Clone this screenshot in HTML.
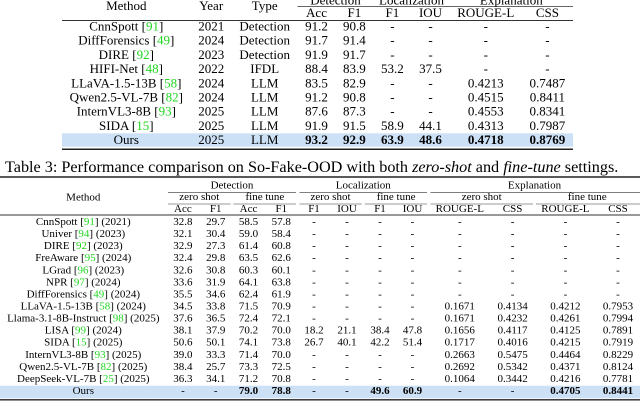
<!DOCTYPE html>
<html><head><meta charset="utf-8"><style>
html,body{margin:0;padding:0;background:#fff;}
svg{display:block;}
text{font-family:"Liberation Serif","Times New Roman",serif;fill:#000;}
.t1{font-size:13px;}
.t2{font-size:11px;}
.g{fill:#1fd81f;}
.b{font-weight:bold;}
</style></head><body>
<svg width="640" height="402" viewBox="0 0 640 402" xmlns="http://www.w3.org/2000/svg">
<!-- ===== Table 1 ===== -->
<rect x="62" y="133.3" width="511" height="13.4" fill="#cde1f6"/>
<line x1="297.5" y1="6.5" x2="573" y2="6.5" stroke="#333" stroke-width="0.7"/>
<line x1="62" y1="20.5" x2="573" y2="20.5" stroke="#333" stroke-width="1"/>
<line x1="62" y1="149.2" x2="573" y2="149.2" stroke="#222" stroke-width="1.5"/>
<g class="t1" text-anchor="middle">
<text x="335.5" y="4.5">Detection</text>
<text x="411.5" y="4.5">Localization</text>
<text x="511.3" y="4.5">Explanation</text>
<text x="126.3" y="10">Method</text>
<text x="211.2" y="10">Year</text>
<text x="264.7" y="10">Type</text>
<text x="316.5" y="16.8">Acc</text>
<text x="354.4" y="16.8">F1</text>
<text x="392.4" y="16.8">F1</text>
<text x="430.5" y="16.8">IOU</text>
<text x="485.75" y="16.8">ROUGE-L</text>
<text x="547.4" y="16.8">CSS</text>

<text x="126.3" y="30.5">CnnSpott [<tspan class="g">91</tspan>]</text>
<text x="211.2" y="30.5">2021</text><text x="264.7" y="30.5">Detection</text>
<text x="316.5" y="30.5">91.2</text><text x="354.4" y="30.5">90.8</text>
<text x="392.4" y="30.5">-</text><text x="430.5" y="30.5">-</text><text x="485.75" y="30.5">-</text><text x="547.4" y="30.5">-</text>

<text x="126.3" y="44.7">DiffForensics [<tspan class="g">49</tspan>]</text>
<text x="211.2" y="44.7">2024</text><text x="264.7" y="44.7">Detection</text>
<text x="316.5" y="44.7">91.7</text><text x="354.4" y="44.7">91.4</text>
<text x="392.4" y="44.7">-</text><text x="430.5" y="44.7">-</text><text x="485.75" y="44.7">-</text><text x="547.4" y="44.7">-</text>

<text x="126.3" y="58.9">DIRE [<tspan class="g">92</tspan>]</text>
<text x="211.2" y="58.9">2023</text><text x="264.7" y="58.9">Detection</text>
<text x="316.5" y="58.9">91.9</text><text x="354.4" y="58.9">91.7</text>
<text x="392.4" y="58.9">-</text><text x="430.5" y="58.9">-</text><text x="485.75" y="58.9">-</text><text x="547.4" y="58.9">-</text>

<text x="126.3" y="73.1">HIFI-Net [<tspan class="g">48</tspan>]</text>
<text x="211.2" y="73.1">2022</text><text x="264.7" y="73.1">IFDL</text>
<text x="316.5" y="73.1">88.4</text><text x="354.4" y="73.1">83.9</text>
<text x="392.4" y="73.1">53.2</text><text x="430.5" y="73.1">37.5</text><text x="485.75" y="73.1">-</text><text x="547.4" y="73.1">-</text>

<text x="126.3" y="87.3">LLaVA-1.5-13B [<tspan class="g">58</tspan>]</text>
<text x="211.2" y="87.3">2024</text><text x="264.7" y="87.3">LLM</text>
<text x="316.5" y="87.3">83.5</text><text x="354.4" y="87.3">82.9</text>
<text x="392.4" y="87.3">-</text><text x="430.5" y="87.3">-</text><text x="485.75" y="87.3">0.4213</text><text x="547.4" y="87.3">0.7487</text>

<text x="126.3" y="101.5">Qwen2.5-VL-7B [<tspan class="g">82</tspan>]</text>
<text x="211.2" y="101.5">2024</text><text x="264.7" y="101.5">LLM</text>
<text x="316.5" y="101.5">91.2</text><text x="354.4" y="101.5">90.8</text>
<text x="392.4" y="101.5">-</text><text x="430.5" y="101.5">-</text><text x="485.75" y="101.5">0.4515</text><text x="547.4" y="101.5">0.8411</text>

<text x="126.3" y="115.7">InternVL3-8B [<tspan class="g">93</tspan>]</text>
<text x="211.2" y="115.7">2025</text><text x="264.7" y="115.7">LLM</text>
<text x="316.5" y="115.7">87.6</text><text x="354.4" y="115.7">87.3</text>
<text x="392.4" y="115.7">-</text><text x="430.5" y="115.7">-</text><text x="485.75" y="115.7">0.4553</text><text x="547.4" y="115.7">0.8341</text>

<text x="126.3" y="129.9">SIDA [<tspan class="g">15</tspan>]</text>
<text x="211.2" y="129.9">2025</text><text x="264.7" y="129.9">LLM</text>
<text x="316.5" y="129.9">91.9</text><text x="354.4" y="129.9">91.5</text>
<text x="392.4" y="129.9">58.9</text><text x="430.5" y="129.9">44.1</text><text x="485.75" y="129.9">0.4313</text><text x="547.4" y="129.9">0.7987</text>

<text x="126.3" y="144.1">Ours</text>
<text x="211.2" y="144.1">2025</text><text x="264.7" y="144.1">LLM</text>
<text class="b" x="316.5" y="144.1">93.2</text><text class="b" x="354.4" y="144.1">92.9</text>
<text class="b" x="392.4" y="144.1">63.9</text><text class="b" x="430.5" y="144.1">48.6</text><text class="b" x="485.75" y="144.1">0.4718</text><text class="b" x="547.4" y="144.1">0.8769</text>
</g>

<!-- ===== Caption ===== -->
<text x="5" y="172" style="font-size:16.2px">Table 3: Performance comparison on So-Fake-OOD with both <tspan font-style="italic">zero-shot</tspan> and <tspan font-style="italic">fine-tune</tspan> settings.</text>

<!-- ===== Table 2 ===== -->
<rect x="0" y="385.7" width="640" height="12.6" fill="#cde1f6"/>
<line x1="0" y1="177" x2="640" y2="177" stroke="#222" stroke-width="1.4"/>
<line x1="168" y1="192.3" x2="296" y2="192.3" stroke="#333" stroke-width="0.6"/>
<line x1="299.5" y1="192.3" x2="427" y2="192.3" stroke="#333" stroke-width="0.6"/>
<line x1="430.5" y1="192.3" x2="640" y2="192.3" stroke="#333" stroke-width="0.6"/>
<line x1="168" y1="204" x2="230.5" y2="204" stroke="#333" stroke-width="0.6"/>
<line x1="233.5" y1="204" x2="296" y2="204" stroke="#333" stroke-width="0.6"/>
<line x1="299.5" y1="204" x2="361.7" y2="204" stroke="#333" stroke-width="0.6"/>
<line x1="364.8" y1="204" x2="427" y2="204" stroke="#333" stroke-width="0.6"/>
<line x1="430.5" y1="204" x2="533" y2="204" stroke="#333" stroke-width="0.6"/>
<line x1="536" y1="204" x2="640" y2="204" stroke="#333" stroke-width="0.6"/>
<line x1="0" y1="215" x2="640" y2="215" stroke="#333" stroke-width="0.9"/>
<line x1="0" y1="399.8" x2="640" y2="399.8" stroke="#222" stroke-width="1.4"/>

<g class="t2" text-anchor="middle">
<text x="232" y="188.5">Detection</text>
<text x="363.3" y="188.5">Localization</text>
<text x="534.5" y="188.5">Explanation</text>
<text x="83.3" y="200.5">Method</text>
<text x="199.3" y="200">zero shot</text>
<text x="264.9" y="200">fine tune</text>
<text x="330.5" y="200">zero shot</text>
<text x="396.1" y="200">fine tune</text>
<text x="481.7" y="200">zero shot</text>
<text x="587.3" y="200">fine tune</text>
<text x="182.9" y="212">Acc</text><text x="215.7" y="212">F1</text>
<text x="248.5" y="212">Acc</text><text x="281.3" y="212">F1</text>
<text x="314" y="212">F1</text><text x="347" y="212">IOU</text>
<text x="380" y="212">F1</text><text x="412.5" y="212">IOU</text>
<text x="459.8" y="212">ROUGE-L</text><text x="512.6" y="212">CSS</text>
<text x="565.4" y="212">ROUGE-L</text><text x="618" y="212">CSS</text>

<text x="83.3" y="225">CnnSpott [<tspan class="g">91</tspan>] (2021)</text>
<text x="182.9" y="225">32.8</text><text x="215.7" y="225">29.7</text><text x="248.5" y="225">58.5</text><text x="281.3" y="225">57.8</text>
<text x="314" y="225">-</text><text x="347" y="225">-</text><text x="380" y="225">-</text><text x="412.5" y="225">-</text>
<text x="459.8" y="225">-</text><text x="512.6" y="225">-</text><text x="565.4" y="225">-</text><text x="618" y="225">-</text>

<text x="83.3" y="237.07">Univer [<tspan class="g">94</tspan>] (2023)</text>
<text x="182.9" y="237.07">32.1</text><text x="215.7" y="237.07">30.4</text><text x="248.5" y="237.07">59.0</text><text x="281.3" y="237.07">58.4</text>
<text x="314" y="237.07">-</text><text x="347" y="237.07">-</text><text x="380" y="237.07">-</text><text x="412.5" y="237.07">-</text>
<text x="459.8" y="237.07">-</text><text x="512.6" y="237.07">-</text><text x="565.4" y="237.07">-</text><text x="618" y="237.07">-</text>

<text x="83.3" y="249.14">DIRE [<tspan class="g">92</tspan>] (2023)</text>
<text x="182.9" y="249.14">32.9</text><text x="215.7" y="249.14">27.3</text><text x="248.5" y="249.14">61.4</text><text x="281.3" y="249.14">60.8</text>
<text x="314" y="249.14">-</text><text x="347" y="249.14">-</text><text x="380" y="249.14">-</text><text x="412.5" y="249.14">-</text>
<text x="459.8" y="249.14">-</text><text x="512.6" y="249.14">-</text><text x="565.4" y="249.14">-</text><text x="618" y="249.14">-</text>

<text x="83.3" y="261.21">FreAware [<tspan class="g">95</tspan>] (2024)</text>
<text x="182.9" y="261.21">32.4</text><text x="215.7" y="261.21">29.8</text><text x="248.5" y="261.21">63.5</text><text x="281.3" y="261.21">62.6</text>
<text x="314" y="261.21">-</text><text x="347" y="261.21">-</text><text x="380" y="261.21">-</text><text x="412.5" y="261.21">-</text>
<text x="459.8" y="261.21">-</text><text x="512.6" y="261.21">-</text><text x="565.4" y="261.21">-</text><text x="618" y="261.21">-</text>

<text x="83.3" y="273.28">LGrad [<tspan class="g">96</tspan>] (2023)</text>
<text x="182.9" y="273.28">32.6</text><text x="215.7" y="273.28">30.8</text><text x="248.5" y="273.28">60.3</text><text x="281.3" y="273.28">60.1</text>
<text x="314" y="273.28">-</text><text x="347" y="273.28">-</text><text x="380" y="273.28">-</text><text x="412.5" y="273.28">-</text>
<text x="459.8" y="273.28">-</text><text x="512.6" y="273.28">-</text><text x="565.4" y="273.28">-</text><text x="618" y="273.28">-</text>

<text x="83.3" y="285.35">NPR [<tspan class="g">97</tspan>] (2024)</text>
<text x="182.9" y="285.35">33.6</text><text x="215.7" y="285.35">31.9</text><text x="248.5" y="285.35">64.1</text><text x="281.3" y="285.35">63.8</text>
<text x="314" y="285.35">-</text><text x="347" y="285.35">-</text><text x="380" y="285.35">-</text><text x="412.5" y="285.35">-</text>
<text x="459.8" y="285.35">-</text><text x="512.6" y="285.35">-</text><text x="565.4" y="285.35">-</text><text x="618" y="285.35">-</text>

<text x="83.3" y="297.42">DiffForensics [<tspan class="g">49</tspan>] (2024)</text>
<text x="182.9" y="297.42">35.5</text><text x="215.7" y="297.42">34.6</text><text x="248.5" y="297.42">62.4</text><text x="281.3" y="297.42">61.9</text>
<text x="314" y="297.42">-</text><text x="347" y="297.42">-</text><text x="380" y="297.42">-</text><text x="412.5" y="297.42">-</text>
<text x="459.8" y="297.42">-</text><text x="512.6" y="297.42">-</text><text x="565.4" y="297.42">-</text><text x="618" y="297.42">-</text>

<text x="83.3" y="309.49">LLaVA-1.5-13B [<tspan class="g">58</tspan>] (2024)</text>
<text x="182.9" y="309.49">34.5</text><text x="215.7" y="309.49">33.8</text><text x="248.5" y="309.49">71.5</text><text x="281.3" y="309.49">70.9</text>
<text x="314" y="309.49">-</text><text x="347" y="309.49">-</text><text x="380" y="309.49">-</text><text x="412.5" y="309.49">-</text>
<text x="459.8" y="309.49">0.1671</text><text x="512.6" y="309.49">0.4134</text><text x="565.4" y="309.49">0.4212</text><text x="618" y="309.49">0.7953</text>

<text x="83.3" y="321.56">Llama-3.1-8B-Instruct [<tspan class="g">98</tspan>] (2025)</text>
<text x="182.9" y="321.56">37.6</text><text x="215.7" y="321.56">36.5</text><text x="248.5" y="321.56">72.4</text><text x="281.3" y="321.56">72.1</text>
<text x="314" y="321.56">-</text><text x="347" y="321.56">-</text><text x="380" y="321.56">-</text><text x="412.5" y="321.56">-</text>
<text x="459.8" y="321.56">0.1671</text><text x="512.6" y="321.56">0.4232</text><text x="565.4" y="321.56">0.4261</text><text x="618" y="321.56">0.7994</text>

<text x="83.3" y="333.63">LISA [<tspan class="g">99</tspan>] (2024)</text>
<text x="182.9" y="333.63">38.1</text><text x="215.7" y="333.63">37.9</text><text x="248.5" y="333.63">70.2</text><text x="281.3" y="333.63">70.0</text>
<text x="314" y="333.63">18.2</text><text x="347" y="333.63">21.1</text><text x="380" y="333.63">38.4</text><text x="412.5" y="333.63">47.8</text>
<text x="459.8" y="333.63">0.1656</text><text x="512.6" y="333.63">0.4117</text><text x="565.4" y="333.63">0.4125</text><text x="618" y="333.63">0.7891</text>

<text x="83.3" y="345.7">SIDA [<tspan class="g">15</tspan>] (2025)</text>
<text x="182.9" y="345.7">50.6</text><text x="215.7" y="345.7">50.1</text><text x="248.5" y="345.7">74.1</text><text x="281.3" y="345.7">73.8</text>
<text x="314" y="345.7">26.7</text><text x="347" y="345.7">40.1</text><text x="380" y="345.7">42.2</text><text x="412.5" y="345.7">51.4</text>
<text x="459.8" y="345.7">0.1717</text><text x="512.6" y="345.7">0.4016</text><text x="565.4" y="345.7">0.4215</text><text x="618" y="345.7">0.7919</text>

<text x="83.3" y="357.77">InternVL3-8B [<tspan class="g">93</tspan>] (2025)</text>
<text x="182.9" y="357.77">39.0</text><text x="215.7" y="357.77">33.3</text><text x="248.5" y="357.77">71.4</text><text x="281.3" y="357.77">70.0</text>
<text x="314" y="357.77">-</text><text x="347" y="357.77">-</text><text x="380" y="357.77">-</text><text x="412.5" y="357.77">-</text>
<text x="459.8" y="357.77">0.2663</text><text x="512.6" y="357.77">0.5475</text><text x="565.4" y="357.77">0.4464</text><text x="618" y="357.77">0.8229</text>

<text x="83.3" y="369.84">Qwen2.5-VL-7B [<tspan class="g">82</tspan>] (2025)</text>
<text x="182.9" y="369.84">38.4</text><text x="215.7" y="369.84">25.7</text><text x="248.5" y="369.84">73.3</text><text x="281.3" y="369.84">72.5</text>
<text x="314" y="369.84">-</text><text x="347" y="369.84">-</text><text x="380" y="369.84">-</text><text x="412.5" y="369.84">-</text>
<text x="459.8" y="369.84">0.2692</text><text x="512.6" y="369.84">0.5342</text><text x="565.4" y="369.84">0.4371</text><text x="618" y="369.84">0.8124</text>

<text x="83.3" y="381.91">DeepSeek-VL-7B [<tspan class="g">25</tspan>] (2025)</text>
<text x="182.9" y="381.91">36.3</text><text x="215.7" y="381.91">34.1</text><text x="248.5" y="381.91">71.2</text><text x="281.3" y="381.91">70.8</text>
<text x="314" y="381.91">-</text><text x="347" y="381.91">-</text><text x="380" y="381.91">-</text><text x="412.5" y="381.91">-</text>
<text x="459.8" y="381.91">0.1064</text><text x="512.6" y="381.91">0.3442</text><text x="565.4" y="381.91">0.4216</text><text x="618" y="381.91">0.7781</text>

<text x="83.3" y="394">Ours</text>
<text x="182.9" y="394">-</text><text x="215.7" y="394">-</text><text class="b" x="248.5" y="394">79.0</text><text class="b" x="281.3" y="394">78.8</text>
<text x="314" y="394">-</text><text x="347" y="394">-</text><text class="b" x="380" y="394">49.6</text><text class="b" x="412.5" y="394">60.9</text>
<text x="459.8" y="394">-</text><text x="512.6" y="394">-</text><text class="b" x="565.4" y="394">0.4705</text><text class="b" x="618" y="394">0.8441</text>
</g>
</svg>
</body></html>
